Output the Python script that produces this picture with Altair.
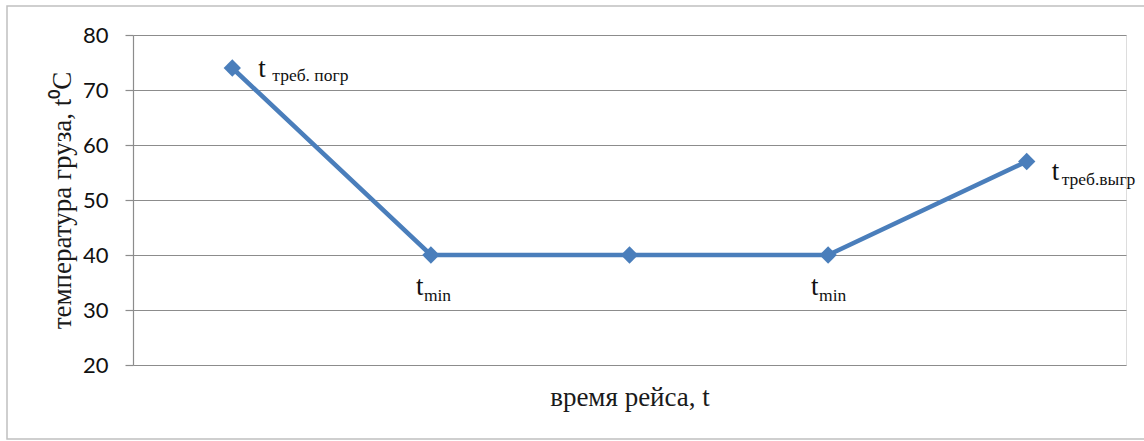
import altair as alt
import pandas as pd

steps = ["1", "2", "3", "4", "5"]
temps = [74, 40, 40, 40, 57]
main_labels = ["t", "t", "", "t", "t"]
sub_labels = ["треб. погр", "min", "", "min", "треб.выгр"]
y_ticks = [20, 30, 40, 50, 60, 70, 80]

df = pd.DataFrame({"step": steps, "temp": temps, "main": main_labels, "sub": sub_labels})

BLUE = "#4a7ebb"
GRID = "#8c8c8c"
SERIF = "Liberation Serif"

x_enc = alt.X("step:O", scale=alt.Scale(type="point", padding=0.5),
              axis=alt.Axis(labels=False, ticks=False, domain=False, grid=False,
                            title="время рейса, t", titleFont=SERIF, titleFontSize=27,
                            titleFontWeight="normal", titleColor="#1a1a1a", titlePadding=19))
y_enc = alt.Y("temp:Q", scale=alt.Scale(domain=[20, 80], nice=False, zero=False),
              axis=alt.Axis(values=y_ticks, grid=True, gridColor=GRID, gridWidth=1.2,
                            domain=True, domainColor=GRID, domainWidth=1.2,
                            ticks=True, tickColor=GRID, tickSize=8, tickWidth=1.2,
                            labelFont="Lato", labelFontSize=22, labelColor="#111111",
                            labelPadding=17,
                            title="температура груза, t⁰C", titleFont=SERIF, titleFontSize=27,
                            titleFontWeight="normal", titleColor="#1a1a1a", titlePadding=6))

base = alt.Chart(df).encode(x=x_enc, y=y_enc)

line = base.mark_line(color=BLUE, strokeWidth=4.5)
pts = base.mark_point(shape="diamond", filled=True, size=300, color=BLUE, opacity=1)

layers = [line, pts]

offsets = {
    "1": (26, 9, 40, 13),
    "2": (-15, 40, -7, 46),
    "4": (-17, 40, -9, 46),
    "5": (25, 18, 35, 23),
}
for s, (dx1, dy1, dx2, dy2) in offsets.items():
    sel = base.transform_filter(alt.datum.step == s)
    layers.append(sel.mark_text(align="left", baseline="alphabetic", font=SERIF, fontSize=27,
                                color="#111111", dx=dx1, dy=dy1).encode(text="main:N"))
    layers.append(sel.mark_text(align="left", baseline="alphabetic", font=SERIF, fontSize=17.5,
                                color="#111111", dx=dx2, dy=dy2).encode(text="sub:N"))

frame = alt.Chart(pd.DataFrame({"a": [0]})).mark_rect(fill="transparent", stroke="#c0c0c0",
                                                       strokeWidth=1.5).encode(
    x=alt.value(-126), x2=alt.value(1013), y=alt.value(-29), y2=alt.value(404))

chart = alt.layer(frame, *layers).properties(
    width=993, height=330,
    autosize=alt.AutoSizeParams(type="none"),
    padding={"left": 133, "top": 35, "right": 18, "bottom": 76},
).configure_view(strokeWidth=0).configure(background="white")

chart.save("out.html", embed_options={"renderer": "svg", "actions": False})
